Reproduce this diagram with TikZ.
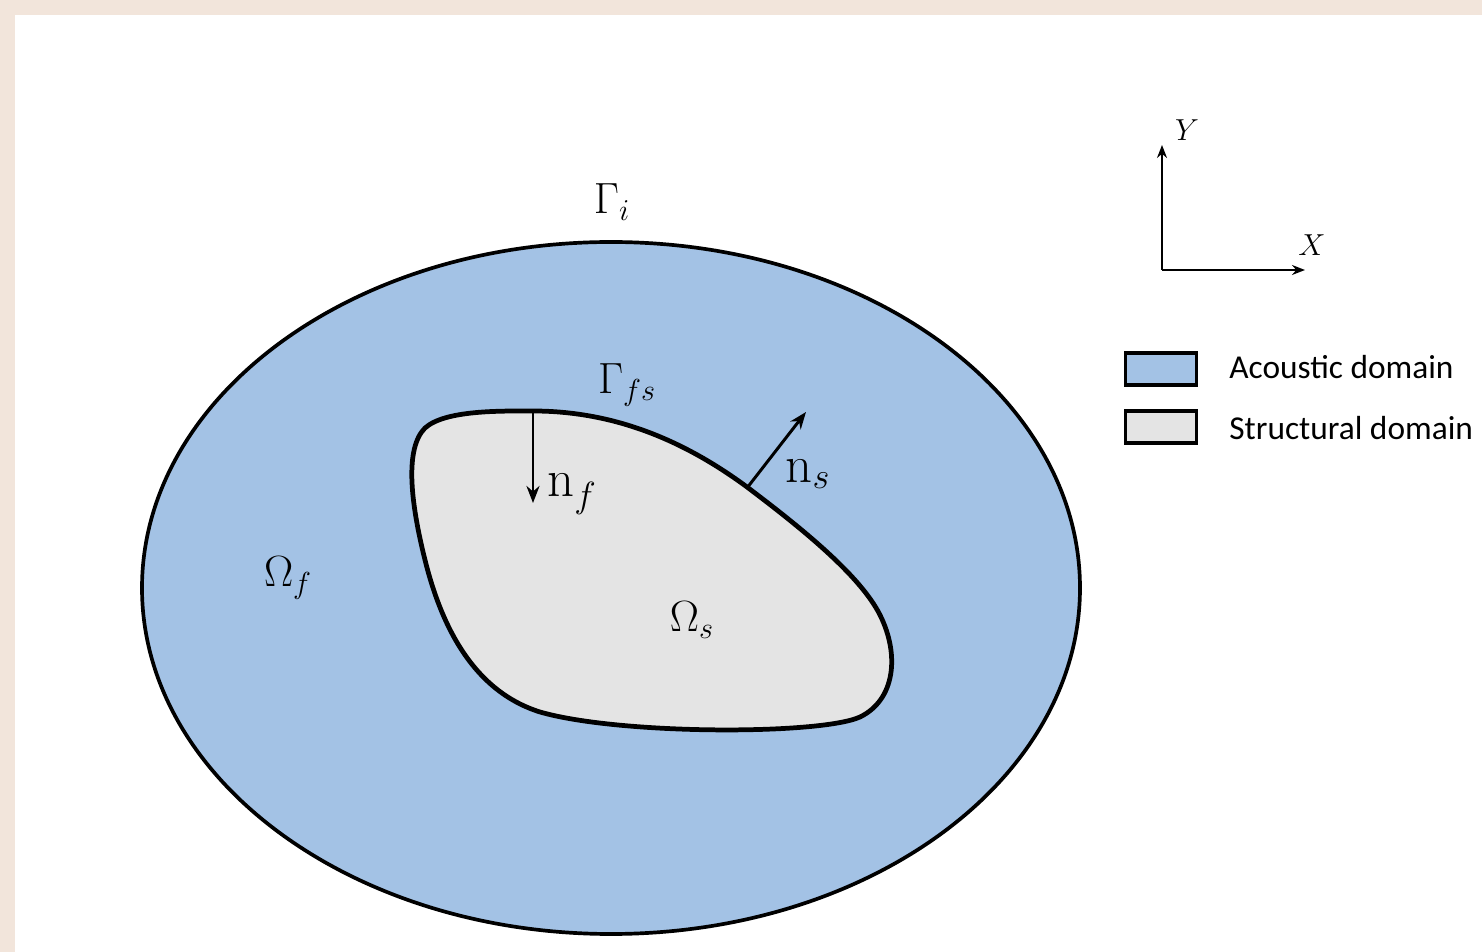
\documentclass[tikz,border=0pt]{standalone}
\usepackage{fontspec}
\newfontfamily\legendfont{Carlito}
\usetikzlibrary{arrows.meta,positioning}
\definecolor{pagebeige}{RGB}{242,229,219}
\definecolor{acblue}{RGB}{163,194,229}
\definecolor{stgray}{RGB}{228,228,228}
\tikzset{
  region/.style={draw=black,line width=2.1pt},
  lbl/.style={inner sep=0pt,font=\fontsize{25}{30}\selectfont},
  nlbl/.style={inner sep=0pt,font=\fontsize{30}{34}\selectfont},
  axlbl/.style={inner sep=0pt,font=\fontsize{18}{22}\selectfont},
  nrm/.style={-{Stealth[length=3.4mm,width=2.6mm]},line width=1.7pt},
  ax/.style={-{Stealth[length=2.6mm,width=2mm]},line width=1.1pt},
  legbox/.style={rectangle,draw=black,line width=2pt,minimum width=1.42cm,
                 minimum height=0.64cm,inner sep=0pt},
  legtxt/.style={anchor=west,inner sep=0pt,font=\legendfont\fontsize{19}{22}\selectfont},
}

\begin{document}
\begin{tikzpicture}[x=0.02cm,y=-0.02cm]
  % page and frame
  \fill[pagebeige] (0,0) rectangle (1482,952);
  \fill[white] (15,15) rectangle (1482,952);
  \useasboundingbox (0,0) rectangle (1482,952);
  % acoustic domain
  \filldraw[region,fill=acblue] (611,588) ellipse [x radius=469,y radius=346];
  % structural domain
  \filldraw[region,fill=stgray,line width=2.7pt]
    (533,411) .. controls (620,411) and (690,445) .. (747,487)
              .. controls (800,527) and (860,575) .. (880,615)
              .. controls (900,655) and (895,700) .. (860,717)
              .. controls (820,735) and (620,735) .. (540,712)
              .. controls (470,690) and (440,620) .. (425,560)
              .. controls (410,500) and (405,448) .. (425,428)
              .. controls (445,410) and (500,411) .. (533,411) -- cycle;
  \node[lbl] (gi)    at (612,202) {$\Gamma_i$};
  \node[lbl] (gfs)   at (627,385) {$\Gamma_{fs}$};
  \node[lbl] (omf)   at (288,578) {$\Omega_f$};
  \node[lbl] (oms)   at (692,620) {$\Omega_s$};
  \node[nlbl] (nf)   at (572,494) {$\mathrm{n}_f$};
  \node[nlbl] (ns)   at (808,474) {$\mathrm{n}_s$};
  % normals
  \coordinate (nftail) at (533,411);
  \coordinate (nfhead) at (533,503);
  \coordinate (nstail) at (747,488);
  \coordinate (nshead) at (806,412);
  \draw[nrm] (nftail) -- (nfhead);
  \draw[nrm] (nstail) -- (nshead);
  % axes
  \coordinate (orig) at (1162,270);
  \coordinate (yend) at (1162,145);
  \coordinate (xend) at (1305,270);
  \draw[ax] (orig) -- (yend);
  \draw[ax] (orig) -- (xend);
  \node[axlbl] (ylab) at (1187,130) {$Y$};
  \node[axlbl] (xlab) at (1312,245) {$X$};
  % legend
  \node[legbox,fill=acblue]  (legac) at (1161,369) {};
  \node[legbox,fill=stgray]  (legst) at (1161,427) {};
  \node[legtxt] (txtac) at (1229,367) {Acoustic domain};
  \node[legtxt] (txtst) at (1229,428) {Structural domain};
\end{tikzpicture}
\end{document}
